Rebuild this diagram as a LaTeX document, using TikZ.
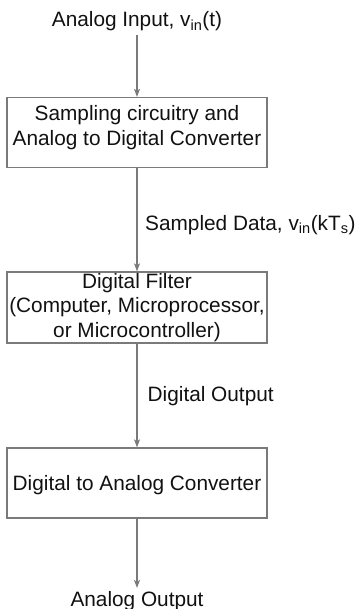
\documentclass[tikz,border=0pt]{standalone}
\usepackage{fontspec}
\setmainfont{Liberation Sans}
\usetikzlibrary{positioning, arrows.meta}
\definecolor{lineGray}{HTML}{7A7A7A}
\definecolor{textBlack}{HTML}{111111}

\tikzset{
  blockbox/.style={draw=lineGray, line width=1.3bp, minimum width=260bp, minimum height=70bp,
    align=center, inner sep=0pt, text=textBlack},
  sidelabel/.style={anchor=base west, inner sep=0pt, text=textBlack},
  endlabel/.style={anchor=base, inner sep=0pt, text=textBlack},
  flow/.style={lineGray, line width=1.3bp, -{Stealth[length=8bp, width=6bp, inset=2bp]}},
}

\begin{document}
\begin{tikzpicture}[x=1bp, y=-1bp, every node/.style={font=\fontsize{20.8bp}{24.5bp}\selectfont}]
  \useasboundingbox (0,0) rectangle (355,609);

  % blocks
  \node[blockbox] (adc) at (137,132.5) {Sampling circuitry and\\Analog to Digital Converter\rule[-14bp]{0pt}{14bp}};
  \node[blockbox, minimum height=71bp] (filt) at (137,307.5) {Digital Filter\\(Computer, Microprocessor,\\or Microcontroller)};
  \node[blockbox, text depth=0bp] (dac) at (137,483) {Digital to Analog Converter};

  % input / output
  \node[endlabel, outer ysep=4bp] (ain) at (137,27) {Analog Input, v\textsubscript{in}(t)};
  \node[endlabel, outer ysep=3bp] (aout) at (137,606) {Analog Output};

  % connectors
  \draw[flow] (ain) -- (adc);
  \draw[flow] (adc) -- (filt);
  \draw[flow] (filt) -- (dac);
  \draw[flow] (dac) -- (aout);

  % line labels
  \node[sidelabel] (slab) at (145,230) {Sampled Data, v\textsubscript{in}(kT\textsubscript{s})};
  \node[sidelabel] (dlab) at (147.5,401) {Digital Output};
\end{tikzpicture}
\end{document}
